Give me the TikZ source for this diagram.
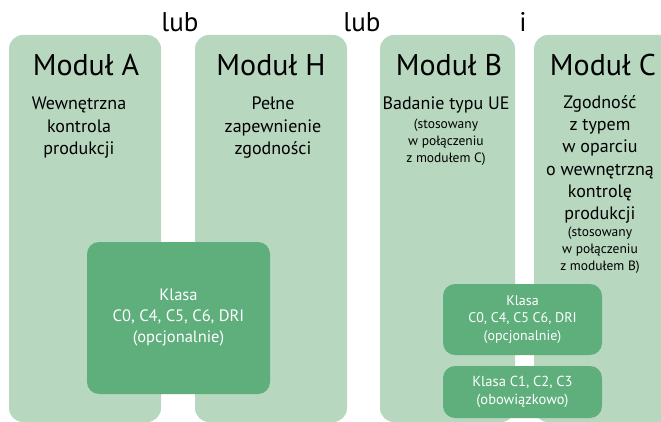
\documentclass[tikz,border=0pt]{standalone}
\usepackage{fontspec}
\setmainfont{PT Sans}
\usepackage{tikz}
\usetikzlibrary{positioning}
\definecolor{modjasny}{HTML}{B8D7BF}
\definecolor{modciemny}{HTML}{5EAF7C}

\tikzset{
  modul/.style={fill=modjasny, rounded corners=14pt, minimum height=387pt, inner sep=0pt},
  klasa/.style={fill=modciemny, rounded corners=12pt, text=white, align=center, inner sep=0pt},
  tytul/.style={anchor=north, inner sep=0pt, font=\fontsize{30}{32}\selectfont},
  opis/.style={anchor=north, inner sep=0pt, align=center, font=\fontsize{18}{22.3}\selectfont},
  uwaga/.style={anchor=north, inner sep=0pt, align=center, font=\fontsize{13.5}{17}\selectfont},
  spojnik/.style={inner sep=0pt, font=\fontsize{27}{28}\selectfont}
}

\begin{document}
\begin{tikzpicture}[x=1pt, y=-1pt]
\clip (0,0) rectangle (661,422);
\fill[white] (0,0) rectangle (661,422);

% kolumny modulow
\foreach \n/\x/\w in {A/85/152, H/271/152, B/447.5/135, C/607/146}
  \node[modul, minimum width=\w pt] (mod\n) at (\x,228.5) {};

\node[tytul] (tytA) at (86,54) {Moduł A};
\node[tytul] (tytH) at (271,54) {Moduł H};
\node[tytul] (tytB) at (449,54) {Moduł B};
\node[tytul] (tytC) at (603,54) {Moduł C};

\node[opis] (opisA) at (79,97) {Wewnętrzna\\kontrola\\produkcji};
\node[opis] (opisH) at (273,97) {Pełne\\zapewnienie\\zgodności};
\node[opis] (opisB) at (446,97) {Badanie typu UE};
\node[uwaga, below=5pt of opisB] (uwagaB) {(stosowany\\w połączeniu\\z modułem C)};
\node[opis] (opisC) at (600,95) {Zgodność\\z typem\\w oparciu\\o wewnętrzną\\kontrolę\\produkcji};
\node[uwaga, below=3pt of opisC] (uwagaC) {(stosowany\\w połączeniu\\z modułem B)};

% spojniki
\node[spojnik] (lub1) at (180,22) {lub};
\node[spojnik] (lub2) at (362,22) {lub};
\node[spojnik] (i) at (523,22) {i};

% klasy
\node[klasa, minimum width=183pt, minimum height=152pt, font=\fontsize{16.5}{21}\selectfont] (klasa1) at (178.5,318)
     {Klasa\\C0, C4, C5, C6, DRI\\(opcjonalnie)};
\node[klasa, minimum width=159pt, minimum height=71pt, font=\fontsize{14}{17.5}\selectfont] (klasa2) at (522.5,319.5)
     {Klasa\\C0, C4, C5 C6, DRI\\(opcjonalnie)};
\node[klasa, minimum width=159pt, minimum height=52pt, font=\fontsize{14.5}{18}\selectfont] (klasa3) at (522.5,392)
     {Klasa C1, C2, C3\\(obowiązkowo)};
\end{tikzpicture}
\end{document}
